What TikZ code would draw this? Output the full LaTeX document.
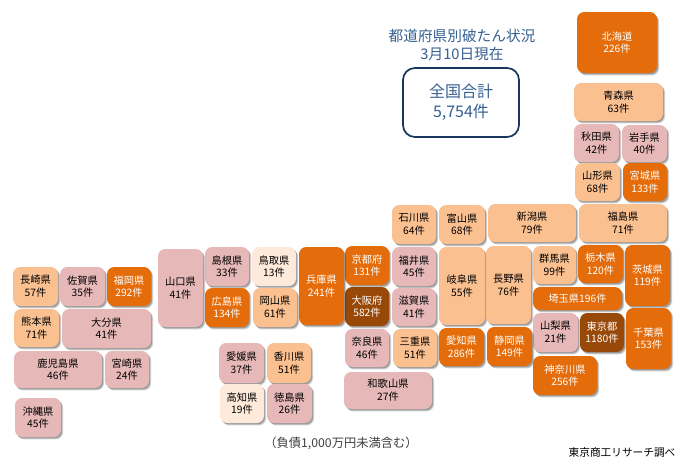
\documentclass[tikz,border=0pt]{standalone}
\usepackage{fontspec}
\setmainfont{Noto Sans CJK JP}
\usetikzlibrary{shadows}
\definecolor{cOrange}{HTML}{E46C0A}
\definecolor{cBrown}{HTML}{984807}
\definecolor{cLight}{HTML}{FAC090}
\definecolor{cPink}{HTML}{E6B9B8}
\definecolor{cPale}{HTML}{FDEADA}
\definecolor{cNavy}{HTML}{17375E}
\definecolor{cBlue}{HTML}{366092}
\tikzset{
  prefbase/.style={rounded corners=5.5pt,inner sep=0pt,align=center,
    font=\fontsize{7.7pt}{9.6pt}\selectfont,
    drop shadow={shadow xshift=1.6pt,shadow yshift=-1.8pt,opacity=.18,fill=black},
    drop shadow={shadow xshift=0.9pt,shadow yshift=-1.1pt,opacity=.25,fill=black}},
  pOrange/.style={prefbase,fill=cOrange,text=white},
  pBrown/.style={prefbase,fill=cBrown,text=white},
  pLight/.style={prefbase,fill=cLight,text=black},
  pPink/.style={prefbase,fill=cPink,text=black},
  pPale/.style={prefbase,fill=cPale,text=black},
}
% name, x0, y0, x1, y1, style, text (pixel coordinates, y downward)
\newcommand\prefbox[7]{%
  \pgfmathsetmacro\bw{(#4-#2)*0.75}%
  \pgfmathsetmacro\bh{(#5-#3)*0.75}%
  \node[#6,minimum width=\bw pt,minimum height=\bh pt] (#1) at ({(#2+#4)/2},{(#3+#5)/2}) {#7};}
\begin{document}
\begin{tikzpicture}[x=0.75pt,y=-0.75pt]
\useasboundingbox (0,0) rectangle (686,468);
\fill[white] (0,0) rectangle (686,468);
\node[text=cBlue,align=center,font=\fontsize{11pt}{13.5pt}\selectfont] (title) at (462,45) {都道府県別破たん状況\\3月10日現在};
\node[draw=cNavy,line width=1.3pt,rounded corners=9pt,minimum width=87pt,minimum height=51.75pt,inner sep=0pt,align=center,text=cBlue,font=\fontsize{12pt}{15pt}\selectfont] (total) at (461,102.5) {\raisebox{-1.2pt}{全国合計}\\\raisebox{-1.2pt}{5,754件}};
\prefbox{hokkaido}{577}{12}{657}{73}{pOrange}{北海道\\226件}
\prefbox{aomori}{574}{83}{663}{121}{pLight}{青森県\\63件}
\prefbox{akita}{574}{124}{619}{162}{pPink}{秋田県\\42件}
\prefbox{iwate}{622}{125}{667}{162}{pPink}{岩手県\\40件}
\prefbox{yamagata}{575}{163}{620}{201}{pLight}{山形県\\68件}
\prefbox{miyagi}{623}{163}{667}{201}{pOrange}{宮城県\\133件}
\prefbox{ishikawa}{392}{205}{436}{244}{pLight}{石川県\\64件}
\prefbox{toyama}{439}{205}{485}{244}{pLight}{富山県\\68件}
\prefbox{niigata}{488}{204}{576}{242}{pLight}{新潟県\\79件}
\prefbox{fukushima}{579}{204}{667}{242}{pLight}{福島県\\71件}
\prefbox{kyoto}{345}{246}{389}{285}{pOrange}{京都府\\131件}
\prefbox{fukui}{392}{247}{436}{286}{pPink}{福井県\\45件}
\prefbox{osaka}{345}{287}{389}{326}{pBrown}{大阪府\\582件}
\prefbox{shiga}{392}{288}{436}{326}{pPink}{滋賀県\\41件}
\prefbox{gifu}{439}{247}{485}{325}{pLight}{岐阜県\\55件}
\prefbox{nagano}{486}{246}{531}{324}{pLight}{長野県\\76件}
\prefbox{gunma}{533}{246}{576}{284}{pLight}{群馬県\\99件}
\prefbox{tochigi}{578}{245}{623}{283}{pOrange}{栃木県\\120件}
\prefbox{ibaraki}{625}{245}{670}{306}{pOrange}{茨城県\\119件}
\prefbox{saitama}{533}{287}{622}{310}{pOrange}{埼玉県196件}
\prefbox{chiba}{626}{308}{671}{369}{pOrange}{千葉県\\153件}
\prefbox{yamanashi}{533}{313}{578}{352}{pPink}{山梨県\\21件}
\prefbox{tokyo}{580}{313}{624}{352}{pBrown}{東京都\\1180件}
\prefbox{nara}{345}{329}{389}{367}{pPink}{奈良県\\46件}
\prefbox{mie}{393}{329}{437}{367}{pLight}{三重県\\51件}
\prefbox{aichi}{439}{328}{484}{366}{pOrange}{愛知県\\286件}
\prefbox{shizuoka}{487}{327}{532}{366}{pOrange}{静岡県\\149件}
\prefbox{kanagawa}{533}{356}{597}{395}{pOrange}{神奈川県\\256件}
\prefbox{wakayama}{344}{372}{432}{409}{pPink}{和歌山県\\27件}
\prefbox{hyogo}{299}{247}{344}{325}{pOrange}{兵庫県\\241件}
\prefbox{shimane}{205}{247}{249}{286}{pPink}{島根県\\33件}
\prefbox{tottori}{252}{247}{296}{286}{pPale}{鳥取県\\13件}
\prefbox{hiroshima}{205}{288}{249}{327}{pOrange}{広島県\\134件}
\prefbox{okayama}{253}{288}{297}{327}{pLight}{岡山県\\61件}
\prefbox{yamaguchi}{158}{249}{203}{327}{pPink}{山口県\\41件}
\prefbox{ehime}{219}{343}{264}{383}{pPink}{愛媛県\\37件}
\prefbox{kagawa}{267}{343}{311}{383}{pLight}{香川県\\51件}
\prefbox{kochi}{220}{384}{264}{423}{pPale}{高知県\\19件}
\prefbox{tokushima}{267}{384}{312}{423}{pPink}{徳島県\\26件}
\prefbox{nagasaki}{13}{267}{58}{306}{pLight}{長崎県\\57件}
\prefbox{saga}{60}{267}{105}{306}{pPink}{佐賀県\\35件}
\prefbox{fukuoka}{107}{267}{151}{306}{pOrange}{福岡県\\292件}
\prefbox{kumamoto}{14}{309}{59}{347}{pLight}{熊本県\\71件}
\prefbox{oita}{62}{309}{151}{348}{pPink}{大分県\\41件}
\prefbox{kagoshima}{14}{351}{102}{388}{pPink}{鹿児島県\\46件}
\prefbox{miyazaki}{105}{351}{149}{388}{pPink}{宮崎県\\24件}
\prefbox{okinawa}{15}{398}{61}{437}{pPink}{沖縄県\\45件}
\node[text=black!75,font=\fontsize{9.2pt}{10pt}\selectfont,inner sep=0pt] (note) at (341,443) {（負債1,000万円未満含む）};
\node[text=black,font=\fontsize{8pt}{10pt}\selectfont,inner sep=0pt] (source) at (622,452) {東京商工リサーチ調べ};
\end{tikzpicture}
\end{document}
